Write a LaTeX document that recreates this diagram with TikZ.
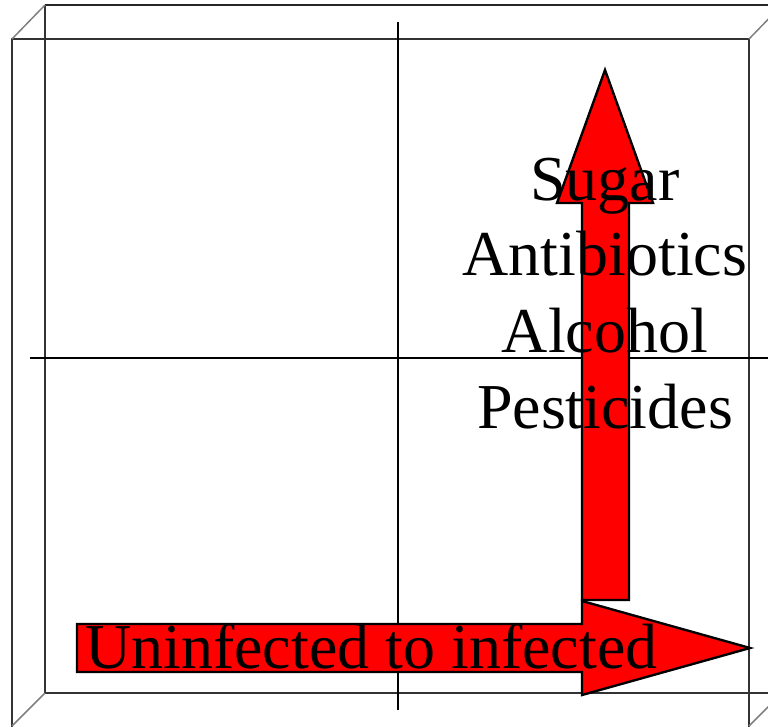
\documentclass[tikz,border=0pt]{standalone}
\usepackage{fontspec}
\setmainfont{Liberation Serif}
\begin{document}
\begin{tikzpicture}[x=1pt,y=-1pt,
  boxline/.style={line width=1.8pt,black!80},
  edgeline/.style={line width=1.5pt,gray},
  crossline/.style={line width=2.4pt,black},
  redarrow/.style={fill=red,draw=black,line width=2.4pt,line join=miter},
  bigtext/.style={font=\fontsize{64}{76.8}\selectfont,inner sep=0pt,text=black}]
\useasboundingbox (0,0) rectangle (768,726);
\clip (0,0) rectangle (768,726);
% back and front frames
\draw[line width=2.6pt,black!85] (45,5) -- (790,5);
\draw[boxline] (45,5) -- (45,693) -- (790,693);
\draw[boxline] (12,39) rectangle (749,740);
\draw[edgeline] (12,39) -- (45,5);
\draw[edgeline] (749,39) -- (782,5);
\draw[edgeline] (12,726) -- (45,693);
\draw[edgeline] (749,726) -- (782,693);
% crosshair
\draw[crossline] (398,22) -- (398,710);
\draw[crossline] (30,358) -- (768,358);
% vertical arrow
\draw[redarrow] (582,600) -- (582,203) -- (557,203) -- (605,70) -- (653,203) -- (629,203) -- (629,600) -- cycle;
% horizontal arrow
\draw[redarrow] (77,624) -- (582,624) -- (582,601) -- (750,648) -- (582,695) -- (582,672) -- (77,672) -- cycle;
% texts
\node[bigtext,anchor=base] (sugar) at (605,200) {Sugar};
\node[bigtext,anchor=base] (anti) at (605,275) {Antibiotics};
\node[bigtext,anchor=base] (alc) at (605,352) {Alcohol};
\node[bigtext,anchor=base] (pest) at (605,428) {Pesticides};
\node[bigtext,anchor=base west] (uninf) at (85,668) {Uninfected to infected};
\end{tikzpicture}
\end{document}
